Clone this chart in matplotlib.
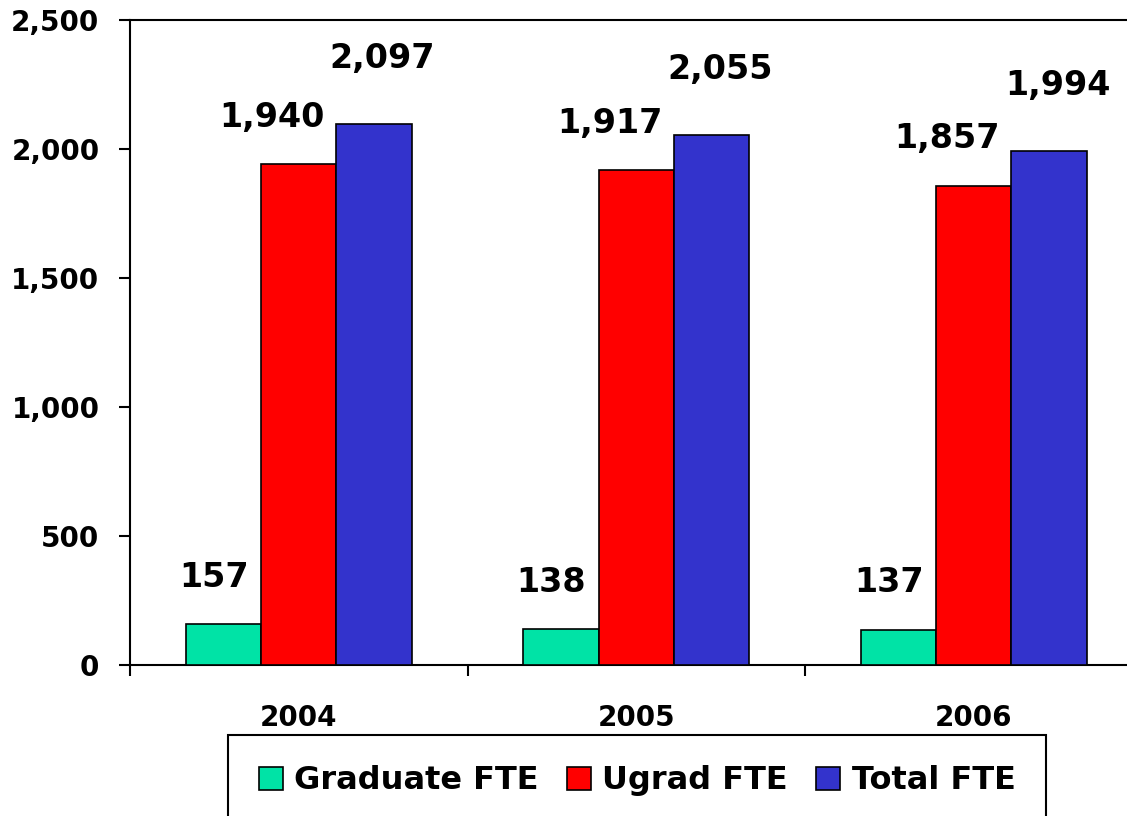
import matplotlib
matplotlib.use("Agg")
import matplotlib.pyplot as plt
import numpy as np

# data
years = ["2004", "2005", "2006"]
graduate = [157, 138, 137]
ugrad = [1940, 1917, 1857]
total = [2097, 2055, 1994]
series_names = ["Graduate FTE", "Ugrad FTE", "Total FTE"]
colors = ["#00E3A6", "#FF0000", "#3333CC"]

plt.rcParams['font.family'] = ['DejaVu Sans']
plt.rcParams['font.weight'] = 'bold'

fig = plt.figure(figsize=(11.27, 8.16), dpi=100)
ax = fig.add_axes([130 / 1127, 1 - 665 / 816, 1012.5 / 1127, 645 / 816])

x = np.arange(len(years)) + 0.5
w = 0.2233

# label offsets (points) for each series: (dx, dy)
label_off = [(-7, 34), (-19, 34), (6, 47)]

all_series = [graduate, ugrad, total]
for k, vals in enumerate(all_series):
    xs = x + (k - 1) * w
    ax.bar(xs, vals, width=w, color=colors[k], edgecolor='black',
           linewidth=1.2, label=series_names[k], zorder=3)
    for xi, v in zip(xs, vals):
        ax.annotate(f"{v:,}", (xi, v), xytext=label_off[k], textcoords='offset points',
                    ha='center', va='center', fontsize=24, fontweight='bold')

ax.set_xlim(0, 3)
ax.set_ylim(0, 2500)
ax.set_yticks(np.arange(0, 2501, 500))
ax.set_yticklabels([f"{v:,}" for v in range(0, 2501, 500)], fontsize=20, fontweight='bold')
ax.tick_params(axis='y', direction='out', length=8, width=1.5, pad=14)

ax.set_xticks([0, 1, 2, 3])
ax.set_xticklabels([])
ax.tick_params(axis='x', which='major', direction='out', length=8, width=1.5)
ax.set_xticks(x, minor=True)
ax.set_xticklabels(years, minor=True, fontsize=20, fontweight='bold')
ax.tick_params(axis='x', which='minor', length=0, pad=28)

for s in ['left', 'top', 'bottom', 'right']:
    ax.spines[s].set_linewidth(1.5)

leg = fig.legend(loc='upper center', bbox_to_anchor=(637 / 1127, 1 - 735 / 816),
                 ncol=3, frameon=True, fancybox=False, framealpha=1, fontsize=23,
                 handlelength=0.75, handleheight=0.75, handletextpad=0.35,
                 columnspacing=0.9, borderpad=0.95, borderaxespad=0)
leg.get_frame().set_edgecolor('black')
leg.get_frame().set_linewidth(1.5)
for t in leg.get_texts():
    t.set_fontweight('bold')

fig.savefig("out.png", dpi=100)
